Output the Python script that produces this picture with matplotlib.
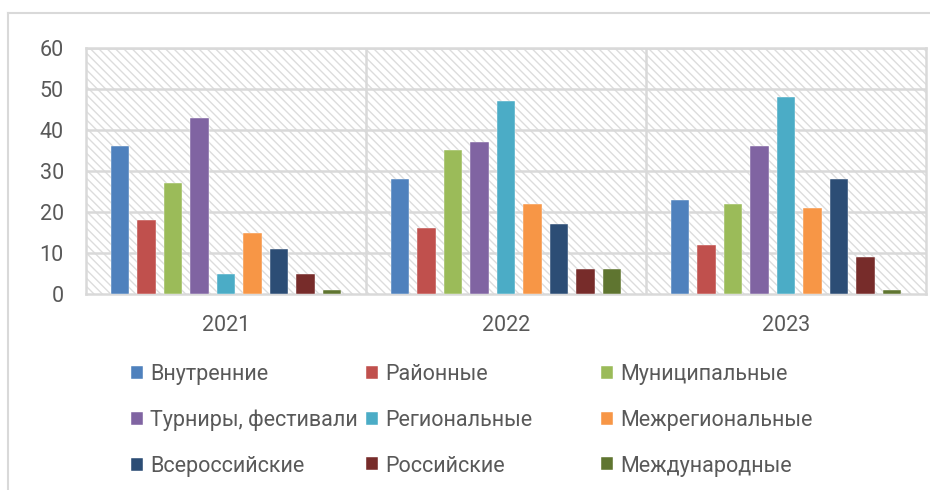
import matplotlib
matplotlib.use('Agg')
import matplotlib.pyplot as plt
import numpy as np
from matplotlib.patches import Rectangle
from matplotlib.lines import Line2D

# data
years = ['2021', '2022', '2023']
series_names = ['Внутренние', 'Районные', 'Муниципальные',
                'Турниры, фестивали', 'Региональные', 'Межрегиональные',
                'Всероссийские', 'Российские', 'Международные']
values = [
    [36, 28, 23],   # Внутренние
    [18, 16, 12],   # Районные
    [27, 35, 22],   # Муниципальные
    [43, 37, 36],   # Турниры, фестивали
    [5, 47, 48],    # Региональные
    [15, 22, 21],   # Межрегиональные
    [11, 17, 28],   # Всероссийские
    [5, 6, 9],      # Российские
    [1, 6, 1],      # Международные
]
colors = ['#4F81BD', '#C0504D', '#9BBB59', '#8064A2', '#4BACC6',
          '#F79646', '#2C4D75', '#772C2A', '#5F7530']
y_ticks = [0, 10, 20, 30, 40, 50, 60]

plt.rcParams['font.family'] = ['Roboto', 'DejaVu Sans']
plt.rcParams['hatch.linewidth'] = 1.0
text_color = '#595959'
grid_color = '#d9d9d9'
fs = 15.5

fig = plt.figure(figsize=(9.3, 4.9), dpi=100)
ax = fig.add_axes([86 / 930, 1 - 294 / 490, 840 / 930, 246 / 490])

# hatched plot-area background
ax.add_patch(Rectangle((0, 0), 1, 1, transform=ax.transAxes, facecolor='white',
                       edgecolor='#dcdcdc', hatch='\\\\\\\\', lw=0, zorder=0))

x = np.arange(len(years))
pitch = 0.0946
width = 0.065
for i, (name, vals) in enumerate(zip(series_names, values)):
    ax.bar(x + (i - 4) * pitch, vals, width, color=colors[i], label=name,
           zorder=3, edgecolor='white', linewidth=0.3)

ax.set_xlim(-0.5, 2.5)
ax.set_ylim(0, 60)
ax.set_yticks(y_ticks)
ax.set_xticks(x)
ax.set_xticklabels(years)
ax.tick_params(axis='both', length=0, labelsize=fs, colors=text_color)
ax.tick_params(axis='y', pad=16)
ax.tick_params(axis='x', pad=15)

for yv in y_ticks[1:]:
    ax.axhline(yv, color=grid_color, lw=1.8, zorder=1)
for xv in [0.5, 1.5]:
    ax.axvline(xv, color=grid_color, lw=1.8, zorder=1)
for sp in ax.spines.values():
    sp.set_color(grid_color)
    sp.set_linewidth(1.8)

# outer chart border (partly cropped in the reference)
fig.add_artist(Line2D([8 / 930, 8 / 930], [0, 1 - 13 / 490], color=grid_color, lw=1.5))
fig.add_artist(Line2D([8 / 930, 1], [1 - 13 / 490, 1 - 13 / 490], color=grid_color, lw=1.5))

# legend: three columns placed like Excel's
handles, labels = ax.get_legend_handles_labels()
col_x = [131, 366, 601]
for c in range(3):
    idx = [c, c + 3, c + 6]
    fig.legend([handles[k] for k in idx], [labels[k] for k in idx],
               loc='upper left', bbox_to_anchor=(col_x[c] / 930, 1 - 364 / 490),
               frameon=False, fontsize=fs, labelcolor=text_color,
               handlelength=0.55, handleheight=0.55, handletextpad=0.35,
               labelspacing=1.15, borderpad=0, borderaxespad=0)

fig.savefig('out.png', dpi=100)
